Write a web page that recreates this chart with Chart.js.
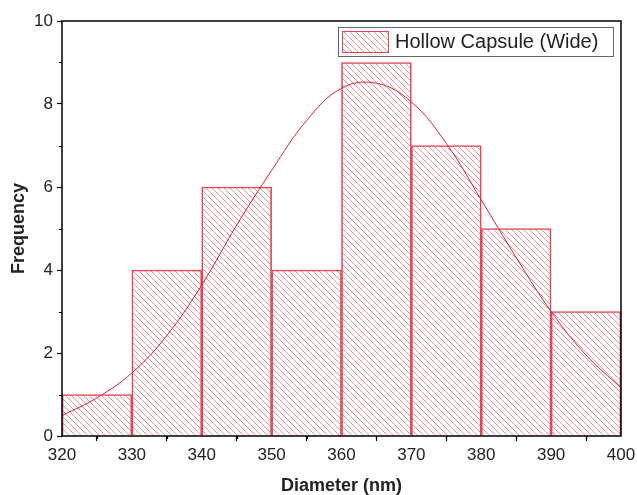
<!DOCTYPE html>
<html>
<head>
<meta charset="utf-8">
<script src="https://cdn.jsdelivr.net/npm/chart.js@4/dist/chart.umd.min.js"></script>
<style>
  html, body { margin: 0; padding: 0; background: #fff; }
  #wrap { width: 637px; height: 495px; }
</style>
</head>
<body>
<div id="wrap"><canvas id="histChart" width="637" height="495"></canvas></div>
<script>
// histogram bins (centres) and counts
const binCentres = [325, 335, 345, 355, 365, 375, 385, 395];
const counts = [1, 4, 6, 4, 9, 7, 5, 3];

// fitted curve
const fitX = [320, 325, 330, 335, 340, 345, 350, 355, 360, 365, 370, 375, 380, 385, 390, 395, 400];
const fitY = [0.49, 0.92, 1.52, 2.42, 3.64, 5.08, 6.4, 7.6, 8.38, 8.5, 8.05, 7.05, 5.69, 4.3, 3.0, 1.95, 1.16];

const xTicks = [320, 330, 340, 350, 360, 370, 380, 390, 400];
const yTicks = [0, 2, 4, 6, 8, 10];

const seriesLabel = "Hollow Capsule (Wide)";

// diagonal hatch fill
function makeHatch() {
	const s = 6;
	const c = document.createElement("canvas");
	c.width = s;
	c.height = s;
	const g = c.getContext("2d");
	g.strokeStyle = "rgba(228, 95, 110, 0.7)";
	g.lineWidth = 1;
	g.beginPath();
	g.moveTo(0, 0); g.lineTo(s, s);
	g.moveTo(-1, s - 1); g.lineTo(1, s + 1);
	g.moveTo(s - 1, -1); g.lineTo(s + 1, 1);
	g.stroke();
	return g.createPattern(c, "repeat");
}
const hatch = makeHatch();

const frameAndLegend = {
	id: "frameAndLegend",
	afterDraw(chart) {
		const c = chart.ctx;
		const a = chart.chartArea;
		const xs = chart.scales.x;
		const ys = chart.scales.y;
		c.save();
		// minor ticks
		c.strokeStyle = "#000";
		c.lineWidth = 1.2;
		c.beginPath();
		for (let v = 325; v < 400; v += 10) {
			const px = Math.round(xs.getPixelForValue(v)) + 0.5;
			c.moveTo(px, a.bottom); c.lineTo(px, a.bottom + 3);
		}
		for (let v = 1; v < 10; v += 2) {
			const py = Math.round(ys.getPixelForValue(v)) + 0.5;
			c.moveTo(a.left, py); c.lineTo(a.left - 3, py);
		}
		c.stroke();
		// frame
		c.lineWidth = 1.5;
		c.strokeRect(a.left, a.top, a.right - a.left, a.bottom - a.top);

		// legend
		const lx = 338, ly = 27, lw = 275, lh = 29;
		c.fillStyle = "#fff";
		c.fillRect(lx, ly, lw, lh);
		c.strokeStyle = "#666";
		c.lineWidth = 1;
		c.strokeRect(lx + 0.5, ly + 0.5, lw, lh);
		c.fillStyle = hatch;
		c.fillRect(342, 31, 47, 22);
		c.strokeStyle = "rgb(225, 70, 85)";
		c.strokeRect(342.5, 31.5, 46, 21);
		c.fillStyle = "#222";
		c.font = "20px 'Liberation Sans', Arial, sans-serif";
		c.textBaseline = "middle";
		c.fillText(seriesLabel, 395, 42);
		c.restore();
	}
};

const ctx = document.getElementById("histChart");

const histChart = new Chart(ctx, {
	type: "bar",
	data: {
		datasets: [
			{
				type: "line",
				label: "fit",
				data: fitX.map((x, i) => ({ x: x, y: fitY[i] })),
				borderColor: "rgb(215, 35, 55)",
				borderWidth: 1,
				pointRadius: 0,
				tension: 0.4,
				fill: false,
				order: 0,
			},
			{
				label: seriesLabel,
				data: binCentres.map((x, i) => ({ x: x, y: counts[i] })),
				backgroundColor: hatch,
				borderColor: "rgb(225, 70, 85)",
				borderWidth: 1,
				barPercentage: 1,
				categoryPercentage: 1,
				order: 1,
			},
		],
	},
	options: {
		responsive: false,
		animation: false,
		layout: { padding: { top: 21, right: 16, left: 0, bottom: 0 } },
		plugins: {
			legend: { display: false },
			tooltip: { enabled: false },
		},
		scales: {
			x: {
				type: "linear",
				offset: false,
				min: 320,
				max: 400,
				afterBuildTicks: (s) => { s.ticks = xTicks.map((v) => ({ value: v })); },
				afterFit: (s) => { s.height = 59; s.paddingLeft = 0; s.paddingRight = 0; },
				grid: {
					display: true,
					drawOnChartArea: false,
					drawTicks: true,
					tickLength: 5,
					tickColor: "#000",
					tickWidth: 1.2,
				},
				border: { display: false },
				ticks: {
					color: "#222",
					padding: 4,
					maxRotation: 0,
					font: { family: "'Liberation Sans', Arial, sans-serif", size: 17 },
				},
				title: {
					display: true,
					text: "Diameter (nm)",
					color: "#222",
					padding: { top: 4, bottom: 0 },
					font: { family: "'Liberation Sans', Arial, sans-serif", size: 18, weight: "bold", lineHeight: 1 },
				},
			},
			y: {
				min: 0,
				max: 10,
				afterBuildTicks: (s) => { s.ticks = yTicks.map((v) => ({ value: v })); },
				afterFit: (s) => { s.width = 62; s.paddingTop = 0; s.paddingBottom = 0; },
				grid: {
					display: true,
					drawOnChartArea: false,
					drawTicks: true,
					tickLength: 5,
					tickColor: "#000",
					tickWidth: 1.2,
				},
				border: { display: false },
				ticks: {
					color: "#222",
					padding: 4,
					font: { family: "'Liberation Sans', Arial, sans-serif", size: 17 },
				},
				title: {
					display: true,
					text: "Frequency",
					color: "#222",
					padding: { top: 8, bottom: 0 },
					font: { family: "'Liberation Sans', Arial, sans-serif", size: 18, weight: "bold" },
				},
			},
		},
	},
	plugins: [frameAndLegend],
});
</script>
</body>
</html>
